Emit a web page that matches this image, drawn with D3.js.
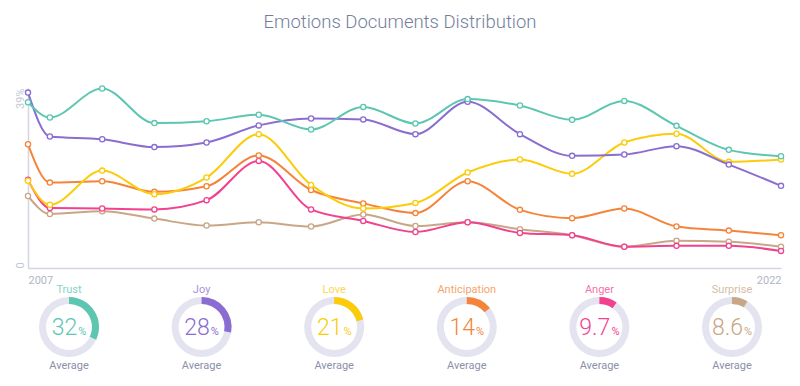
<!DOCTYPE html>
<html>
<head>
<meta charset="utf-8">
<script src="https://cdn.jsdelivr.net/npm/d3@7"></script>
<style>
  body { margin: 0; background: #fff; }
  svg { font-family: Roboto, "Open Sans", sans-serif; display: block; }
  .line { fill: none; stroke-width: 2; }
  .dot { fill: #fff; stroke-width: 1.3; }
</style>
</head>
<body>
<div id="chart"></div>
<script>
// data
var dates = ["2007-08-01","2008-01-01","2009-01-01","2010-01-01","2011-01-01","2012-01-01",
  "2013-01-01","2014-01-01","2015-01-01","2016-01-01","2017-01-01","2018-01-01",
  "2019-01-01","2020-01-01","2021-01-01","2022-01-01"];
var emotions = ["Trust","Joy","Love","Anticipation","Anger","Surprise"];
var colors = ["#5cc6b1","#8a6dd1","#fccb0a","#f5843a","#f2428f","#c8a786"];
var trust = [35.9,32.6,38.9,31.4,31.8,33.2,30.0,34.9,31.3,36.6,35.2,32.1,36.2,30.8,25.6,24.2];
var joy = [38.0,28.5,27.9,26.2,27.2,30.9,32.4,32.2,29.0,36.0,29.0,24.3,24.6,26.4,22.4,17.8];
var love = [18.9,13.7,21.1,16.0,19.6,29.0,18.0,12.9,14.1,20.7,23.5,20.4,27.2,29.1,23.0,23.5];
var anticipation = [26.8,18.5,18.8,16.5,17.7,24.4,16.9,14.0,11.9,18.8,12.6,10.8,12.9,9.0,8.1,7.1];
var anger = [19.1,13.0,12.9,12.7,14.7,23.2,12.7,10.2,7.8,9.9,7.6,7.1,4.6,4.8,4.8,3.7];
var surprise = [15.6,11.7,12.3,10.7,9.2,9.9,9.0,11.6,9.1,9.9,8.4,7.1,4.6,5.9,5.7,4.6];
var averages = [32, 28, 21, 14, 9.7, 8.6];
var yMax = 39;

var series = [trust, joy, love, anticipation, anger, surprise];

var width = 800, height = 386;
var margin = { top: 88, left: 28, right: 19, plotBottom: 268 };

var parse = d3.timeParse("%Y-%m-%d");
var xDates = dates.map(parse);

var svg = d3.select("#chart").append("svg")
    .attr("width", width)
    .attr("height", height);

svg.append("text")
    .attr("x", width / 2)
    .attr("y", 28)
    .attr("text-anchor", "middle")
    .attr("font-size", "18.5px")
    .attr("font-weight", 300)
    .attr("fill", "#737e9c")
    .text("Emotions Documents Distribution");

var x = d3.scaleTime()
    .domain(d3.extent(xDates))
    .range([margin.left, width - margin.right]);

var y = d3.scaleLinear()
    .domain([0, yMax])
    .range([margin.plotBottom, margin.top]);

// axes
var xAxis = svg.append("g")
    .attr("transform", "translate(0," + margin.plotBottom + ")")
    .call(d3.axisBottom(x)
        .tickValues([xDates[0], xDates[xDates.length - 1]])
        .tickFormat(function (d, i) { return i == 0 ? "2007" : d3.timeFormat("%Y")(d); })
        .tickSize(0)
        .tickPadding(8));
xAxis.select(".domain").attr("stroke", "#d3d6e2").attr("stroke-width", 1.5);
xAxis.selectAll("text")
    .attr("font-size", "11px")
    .attr("font-weight", 400)
    .attr("fill", "#b1b5c6")
    .attr("font-family", "Roboto, sans-serif")
    .attr("text-anchor", function (d, i) { return i == 0 ? "start" : "end"; });

var yAxis = svg.append("g")
    .attr("transform", "translate(" + margin.left + ",0)")
    .call(d3.axisLeft(y).tickValues([0, yMax]).tickSize(0).tickFormat(""));
yAxis.select(".domain").attr("stroke", "#d3d6e2").attr("stroke-width", 1.5);

yAxis.selectAll(".tick").append("text")
    .attr("transform", "rotate(-90)")
    .attr("x", 0)
    .attr("y", -4)
    .attr("fill", "#c3c7d4")
    .attr("font-size", "11px")
    .attr("font-family", "Roboto, sans-serif")
    .attr("text-anchor", function (d) { return d == 0 ? "start" : "end"; })
    .text(function (d) { return d == 0 ? "0" : d + "%"; });

// lines
var line = d3.line()
    .x(function (d, i) { return x(xDates[i]); })
    .y(function (d) { return y(d); })
    .curve(d3.curveMonotoneX);

var order = [5, 4, 3, 2, 1, 0];
order.forEach(function (k) {
    var g = svg.append("g");
    g.append("path")
        .attr("class", "line")
        .attr("stroke", colors[k])
        .attr("d", line(series[k]));
    g.selectAll("circle")
        .data(series[k])
        .enter().append("circle")
        .attr("class", "dot")
        .attr("stroke", colors[k])
        .attr("cx", function (d, i) { return x(xDates[i]); })
        .attr("cy", function (d) { return y(d); })
        .attr("r", 2.6);
});

// donuts
var donutX = d3.scalePoint()
    .domain(emotions)
    .range([69, 732]);
var arc = d3.arc().innerRadius(23).outerRadius(30);
var cy = 327;

emotions.forEach(function (name, i) {
    var g = svg.append("g")
        .attr("transform", "translate(" + donutX(name) + "," + cy + ")");
    g.append("path")
        .attr("fill", "#e4e4f0")
        .attr("d", arc({ startAngle: 0, endAngle: 2 * Math.PI }));
    g.append("path")
        .attr("fill", colors[i])
        .attr("d", arc({ startAngle: 0, endAngle: 2 * Math.PI * averages[i] / 100 }));
    g.append("text")
        .attr("y", -34)
        .attr("text-anchor", "middle")
        .attr("font-size", "11px")
        .attr("fill", colors[i])
        .attr("opacity", 0.75)
        .text(name);
    var t = g.append("text")
        .attr("y", 8)
        .attr("text-anchor", "middle")
        .attr("fill", colors[i]);
    t.append("tspan").attr("font-size", "23px").attr("font-weight", 300).text(averages[i]);
    t.append("tspan").attr("font-size", "11px").attr("dx", 1).text("%");
    g.append("text")
        .attr("y", 42)
        .attr("text-anchor", "middle")
        .attr("font-size", "11px")
        .attr("fill", "#8b90a8")
        .text("Average");
});
</script>
</body>
</html>
